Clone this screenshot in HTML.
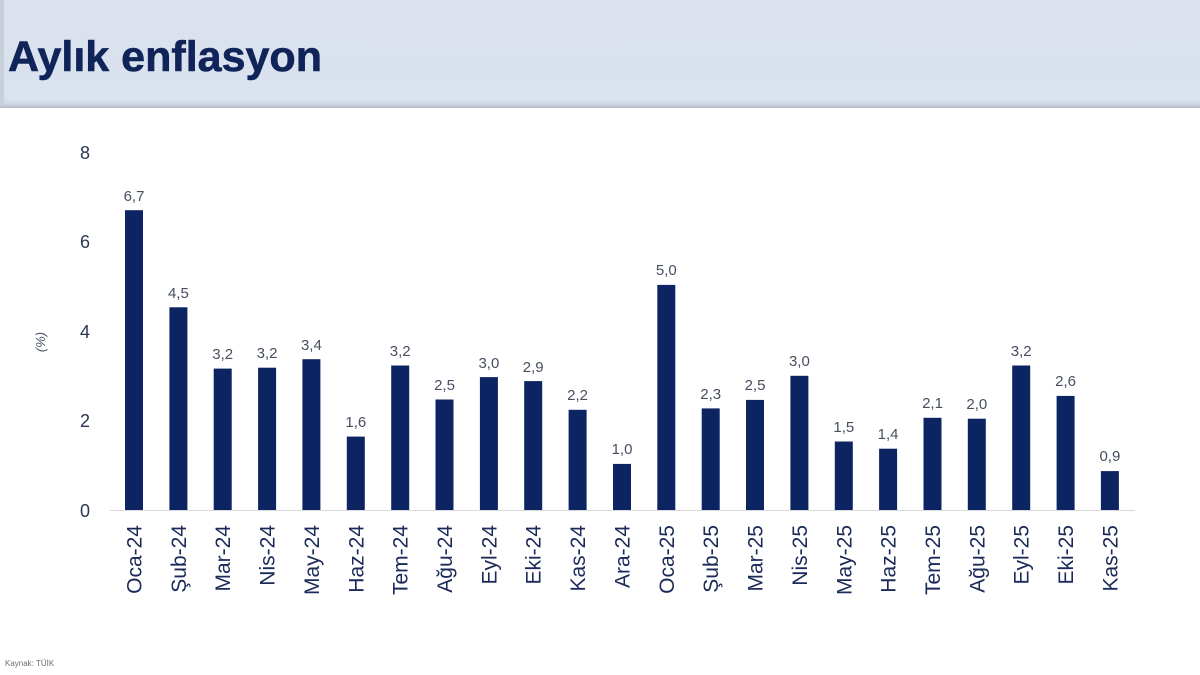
<!DOCTYPE html>
<html>
<head>
<meta charset="utf-8">
<style>
  html, body { margin:0; padding:0; background:#ffffff; }
  body { width:1200px; height:675px; overflow:hidden; position:relative; font-family:"Liberation Sans", sans-serif; }
  svg { position:absolute; left:0; top:0; }
</style>
</head>
<body>
<svg width="1200" height="675" viewBox="0 0 1200 675" xmlns="http://www.w3.org/2000/svg">
  <defs>
    <linearGradient id="hb" x1="0" y1="0" x2="0" y2="1">
      <stop offset="0" stop-color="#dbe2ee"/>
      <stop offset="1" stop-color="#dae1ef"/>
    </linearGradient>
    <linearGradient id="hl" x1="0" y1="0" x2="0" y2="1">
      <stop offset="0" stop-color="#d8dff0"/>
      <stop offset="0.6" stop-color="#ccd3e0"/>
      <stop offset="1" stop-color="#b3bbc7"/>
    </linearGradient>
  </defs>
  <rect x="0" y="0" width="1200" height="108" fill="url(#hb)"/>
  <rect x="0" y="100" width="1200" height="8" fill="url(#hl)"/>
  <rect x="0" y="0" width="4" height="106" fill="#c9d0dc"/>
  <text x="8" y="71" font-family="Liberation Sans, sans-serif" font-weight="bold" font-size="43" fill="#10245a" stroke="#10245a" stroke-width="0.6" textLength="314" lengthAdjust="spacingAndGlyphs">Aylık enflasyon</text>

  <!-- y tick labels -->
  <g font-family="Liberation Sans, sans-serif" font-size="18" fill="#2a3552" text-anchor="end">
    <text x="90" y="159">8</text>
    <text x="90" y="248">6</text>
    <text x="90" y="338">4</text>
    <text x="90" y="427">2</text>
    <text x="90" y="517">0</text>
  </g>
  <text transform="translate(45,342) rotate(-90)" text-anchor="middle" font-family="Liberation Sans, sans-serif" font-size="13" font-style="italic" fill="#4a5166">(%)</text>

  <!-- axis -->
  <line x1="110" y1="510.5" x2="1135" y2="510.5" stroke="#d9d9d9" stroke-width="1"/>

  <!-- bars -->
  <g fill="#0c2461">
    <rect x="125" y="210.2" width="18" height="299.8"/>
    <rect x="169.4" y="307.3" width="18" height="202.7"/>
    <rect x="213.7" y="368.6" width="18" height="141.4"/>
    <rect x="258.1" y="367.7" width="18" height="142.3"/>
    <rect x="302.4" y="359.2" width="18" height="150.8"/>
    <rect x="346.8" y="436.6" width="18" height="73.4"/>
    <rect x="391.2" y="365.5" width="18" height="144.5"/>
    <rect x="435.5" y="399.5" width="18" height="110.5"/>
    <rect x="479.9" y="377.1" width="18" height="132.9"/>
    <rect x="524.2" y="381.1" width="18" height="128.9"/>
    <rect x="568.6" y="409.8" width="18" height="100.2"/>
    <rect x="613" y="463.9" width="18" height="46.1"/>
    <rect x="657.3" y="284.9" width="18" height="225.1"/>
    <rect x="701.7" y="408.4" width="18" height="101.6"/>
    <rect x="746" y="399.9" width="18" height="110.1"/>
    <rect x="790.4" y="375.8" width="18" height="134.2"/>
    <rect x="834.8" y="441.5" width="18" height="68.5"/>
    <rect x="879.1" y="448.7" width="18" height="61.3"/>
    <rect x="923.5" y="417.8" width="18" height="92.2"/>
    <rect x="967.8" y="418.7" width="18" height="91.3"/>
    <rect x="1012.2" y="365.5" width="18" height="144.5"/>
    <rect x="1056.6" y="395.9" width="18" height="114.1"/>
    <rect x="1100.9" y="471.1" width="18" height="38.9"/>
  </g>

  <!-- value labels -->
  <g font-family="Liberation Sans, sans-serif" font-size="15" fill="#464e60" text-anchor="middle">
    <text x="134" y="201">6,7</text>
    <text x="178.4" y="298">4,5</text>
    <text x="222.7" y="359">3,2</text>
    <text x="267.1" y="358">3,2</text>
    <text x="311.4" y="350">3,4</text>
    <text x="355.8" y="427">1,6</text>
    <text x="400.2" y="356">3,2</text>
    <text x="444.5" y="390">2,5</text>
    <text x="488.9" y="368">3,0</text>
    <text x="533.2" y="372">2,9</text>
    <text x="577.6" y="400">2,2</text>
    <text x="622" y="454">1,0</text>
    <text x="666.3" y="275">5,0</text>
    <text x="710.7" y="399">2,3</text>
    <text x="755" y="390">2,5</text>
    <text x="799.4" y="366">3,0</text>
    <text x="843.8" y="432">1,5</text>
    <text x="888.1" y="439">1,4</text>
    <text x="932.5" y="408">2,1</text>
    <text x="976.8" y="409">2,0</text>
    <text x="1021.2" y="356">3,2</text>
    <text x="1065.6" y="386">2,6</text>
    <text x="1109.9" y="461">0,9</text>
  </g>

  <!-- x labels -->
  <g font-family="Liberation Sans, sans-serif" font-size="21" fill="#1b2a58" text-anchor="end">
    <text transform="translate(141.5,525) rotate(-90)">Oca-24</text>
    <text transform="translate(185.9,525) rotate(-90)">Şub-24</text>
    <text transform="translate(230.2,525) rotate(-90)">Mar-24</text>
    <text transform="translate(274.6,525) rotate(-90)">Nis-24</text>
    <text transform="translate(318.9,525) rotate(-90)">May-24</text>
    <text transform="translate(363.3,525) rotate(-90)">Haz-24</text>
    <text transform="translate(407.7,525) rotate(-90)">Tem-24</text>
    <text transform="translate(452,525) rotate(-90)">Ağu-24</text>
    <text transform="translate(496.4,525) rotate(-90)">Eyl-24</text>
    <text transform="translate(540.7,525) rotate(-90)">Eki-24</text>
    <text transform="translate(585.1,525) rotate(-90)">Kas-24</text>
    <text transform="translate(629.5,525) rotate(-90)">Ara-24</text>
    <text transform="translate(673.8,525) rotate(-90)">Oca-25</text>
    <text transform="translate(718.2,525) rotate(-90)">Şub-25</text>
    <text transform="translate(762.5,525) rotate(-90)">Mar-25</text>
    <text transform="translate(806.9,525) rotate(-90)">Nis-25</text>
    <text transform="translate(851.3,525) rotate(-90)">May-25</text>
    <text transform="translate(895.6,525) rotate(-90)">Haz-25</text>
    <text transform="translate(940,525) rotate(-90)">Tem-25</text>
    <text transform="translate(984.3,525) rotate(-90)">Ağu-25</text>
    <text transform="translate(1028.7,525) rotate(-90)">Eyl-25</text>
    <text transform="translate(1073.1,525) rotate(-90)">Eki-25</text>
    <text transform="translate(1117.4,525) rotate(-90)">Kas-25</text>
  </g>

  <text x="5" y="666" font-family="Liberation Sans, sans-serif" font-size="8" fill="#6a6f7a">Kaynak: TÜİK</text>
</svg>
</body>
</html>
